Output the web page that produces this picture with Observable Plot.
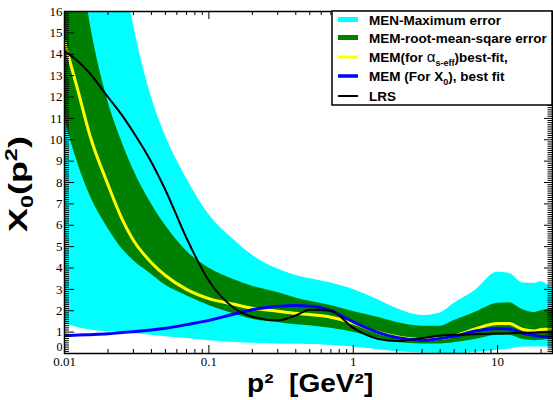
<!DOCTYPE html>
<html><head><meta charset="utf-8">
<script src="https://cdn.jsdelivr.net/npm/d3@7"></script>
<script src="https://cdn.jsdelivr.net/npm/@observablehq/plot@0.6"></script>
<style>body{margin:0;background:#fff;} svg{display:block}</style>
</head><body><div id="chart"></div>
<script>
// p^2 grid (GeV^2)
const xs      = [0.01, 0.0125, 0.015, 0.02, 0.025, 0.03, 0.04, 0.05, 0.07, 0.1, 0.15, 0.2, 0.3, 0.4, 0.5, 0.7, 1, 1.5, 2, 3, 4, 5, 7, 10, 12, 15, 18, 20, 24];
// MEN maximum error band
const cyanHi  = [40, 32, 27, 21.5, 18.3, 15.4, 12.0, 10.2, 8.2, 6.5, 5.3, 4.6, 3.95, 3.65, 3.5, 3.3, 3.0, 2.5, 2.1, 1.78, 1.9, 2.35, 2.95, 3.8, 3.75, 3.3, 3.28, 3.36, 3.0];
const cyanLo  = [1.4, 1.2, 1.1, 1.02, 0.97, 0.93, 0.85, 0.78, 0.7, 0.6, 0.52, 0.48, 0.45, 0.43, 0.42, 0.38, 0.3, 0.18, 0.08, 0.02, 0, 0, 0.05, 0.15, 0.2, 0.3, 0.3, 0.3, 0.3];
// MEM root-mean-square error band
const greenHi = [22, 19, 15.5, 11.8, 9.9, 8.6, 7.0, 6.0, 4.8, 4.0, 3.45, 3.15, 2.85, 2.6, 2.45, 2.25, 1.97, 1.68, 1.45, 1.28, 1.28, 1.54, 1.93, 2.35, 2.38, 2.05, 1.92, 2.0, 2.1];
const greenLo = [11, 8.8, 7.4, 5.85, 4.9, 4.35, 3.7, 3.2, 2.7, 2.25, 1.85, 1.6, 1.45, 1.35, 1.3, 1.18, 1.0, 0.72, 0.52, 0.45, 0.45, 0.5, 0.65, 0.85, 0.85, 0.65, 0.6, 0.62, 0.65];
// best fits
const yellowFit = [14.6, 12.2, 10.2, 7.9, 6.3, 5.3, 4.25, 3.65, 3.0, 2.57, 2.3, 2.12, 1.98, 1.88, 1.82, 1.7, 1.42, 0.98, 0.78, 0.65, 0.7, 0.82, 1.15, 1.4, 1.4, 1.12, 1.05, 1.12, 1.15];
const blueFit   = [0.84, 0.86, 0.88, 0.92, 0.98, 1.02, 1.1, 1.18, 1.35, 1.55, 1.85, 2.05, 2.2, 2.24, 2.22, 2.0, 1.48, 0.98, 0.75, 0.62, 0.7, 0.8, 1.05, 1.17, 1.15, 0.95, 0.85, 0.8, 0.77];
const lrs       = [14.15, 13.65, 13.1, 12.0, 11.15, 10.35, 8.95, 7.65, 5.4, 3.4, 2.12, 1.72, 1.55, 1.78, 2.05, 2.0, 1.2, 0.68, 0.58, 0.72, 0.84, 0.88, 0.9, 0.93, 0.95, 0.97, 0.98, 1.0, 1.0];

// tick values
const xMajor = [0.01, 0.1, 1, 10];
const xMinor = [0.01, 0.1, 1, 10].flatMap(d => [2,3,4,5,6,7,8,9].map(k => +(k*d).toPrecision(3))).filter(v => v < 24);
const yMajor = d3.range(0, 17);
const yMinor = d3.range(0, 160).filter(i => i % 10 !== 0).map(i => i / 10);

// legend
const legendColors = ["#00ffff", "#008000", "#ffff00", "#0000ff", "#000000"];
const legendWidths = [5, 5, 3, 3.5, 2];

const rows = xs.map((x, i) => ({x, cyanLo: cyanLo[i], cyanHi: cyanHi[i], greenLo: greenLo[i], greenHi: greenHi[i],
  yellow: yellowFit[i], blue: blueFit[i], black: lrs[i]}));

const W = 553, H = 400, mL = 64, mR = 1, mT = 11, mB = 47;
const ih = H - mT - mB, iw = W - mL - mR;

const svg = Plot.plot({
  width: W, height: H, marginLeft: mL, marginRight: mR, marginTop: mT, marginBottom: mB,
  style: {fontFamily: "'Liberation Serif', 'Times New Roman', serif", fontSize: "13px", background: "#fff", color: "#000"},
  x: {type: "log", domain: [0.01, 24]},
  y: {domain: [0, 16]},
  marks: [
    Plot.areaY(rows, {x: "x", y1: "cyanLo", y2: "cyanHi", fill: "#00ffff", curve: "monotone-x", clip: true}),
    Plot.areaY(rows, {x: "x", y1: "greenLo", y2: "greenHi", fill: "#008000", curve: "monotone-x", clip: true}),
    Plot.line(rows, {x: "x", y: "yellow", stroke: "#ffff00", strokeWidth: 3, curve: "monotone-x", clip: true}),
    Plot.line(rows, {x: "x", y: "blue", stroke: "#0000ff", strokeWidth: 3, curve: "monotone-x", clip: true}),
    Plot.line(rows, {x: "x", y: "black", stroke: "#000", strokeWidth: 2, curve: "monotone-x", clip: true}),
    Plot.tickX(xMajor, {x: d => d, insetTop: ih - 8}),
    Plot.tickX(xMinor, {x: d => d, insetTop: ih - 4}),
    Plot.tickX(xMajor, {x: d => d, insetBottom: ih - 8}),
    Plot.tickX(xMinor, {x: d => d, insetBottom: ih - 4}),
    Plot.tickY(yMajor, {y: d => d, insetRight: iw - 10}),
    Plot.tickY(yMinor, {y: d => d, insetRight: iw - 5}),
    Plot.tickY(yMajor, {y: d => d, insetLeft: iw - 8}),
    Plot.tickY(yMinor, {y: d => d, insetLeft: iw - 4.5}),
    Plot.axisX({ticks: xMajor, tickSize: 0, tickPadding: 3, tickFormat: d => String(d), label: null}),
    Plot.axisY({ticks: yMajor.filter(d => d > 0), tickSize: 0, tickPadding: 2, label: null}),
    Plot.axisY({ticks: [0], tickSize: 0, tickPadding: 2, dy: -6, fontSize: 12, label: null}),
    Plot.frame({stroke: "#000", strokeWidth: 1.5})
  ]
});
document.getElementById("chart").appendChild(svg);

const s = d3.select(svg);
const sans = "'Liberation Sans', Arial, Helvetica, sans-serif";

// x title
s.append("text").attr("transform", "translate(247,392) scale(1.08,1)").attr("text-anchor", "start")
  .attr("font-family", sans).attr("font-weight", "bold")
  .attr("font-size", 26).attr("fill", "#000").style("white-space", "pre").text("p²  [GeV²]");

// y title
const yt = s.append("text").attr("transform", "translate(27,232) rotate(-90) scale(1.38,1)").attr("text-anchor", "start")
  .attr("font-family", sans).attr("font-weight", "bold").attr("font-size", 26).attr("fill", "#000");
yt.append("tspan").text("X");
yt.append("tspan").attr("font-size", 17).attr("dy", 6).text("0");
yt.append("tspan").attr("dy", -6).text("(p");
yt.append("tspan").attr("font-size", 17).attr("dy", -10).text("2");
yt.append("tspan").attr("dy", 10).text(")");

// legend
const lg = s.append("g").attr("font-family", sans).attr("font-weight", "bold").attr("font-size", 13.5)
  .attr("fill", "#000").attr("text-anchor", "start");
lg.append("rect").attr("x", 332).attr("y", 11).attr("width", 220).attr("height", 94)
  .attr("fill", "#fff").attr("stroke", "#000").attr("stroke-width", 1.5);
const ys = [19.5, 37.5, 57, 76, 96];
ys.forEach((y, i) => {
  lg.append("line").attr("x1", 338).attr("x2", 358).attr("y1", y).attr("y2", y)
    .attr("stroke", legendColors[i]).attr("stroke-width", legendWidths[i]);
});
const tx = (i) => lg.append("text").attr("x", 369).attr("y", ys[i] + 5);
tx(0).text("MEN-Maximum error");
tx(1).text("MEM-root-mean-sqare error");
const t2 = tx(2);
t2.append("tspan").text("MEM(for ");
t2.append("tspan").attr("font-weight", "normal").attr("font-size", 15).text("α");
t2.append("tspan").attr("font-size", 9).attr("dy", 4).text("s-eff");
t2.append("tspan").attr("dy", -4).text(")best-fit,");
const t3 = tx(3);
t3.append("tspan").text("MEM (For X");
t3.append("tspan").attr("font-size", 9).attr("dy", 4).text("0");
t3.append("tspan").attr("dy", -4).text("), best fit");
tx(4).text("LRS");
</script>
</body></html>
